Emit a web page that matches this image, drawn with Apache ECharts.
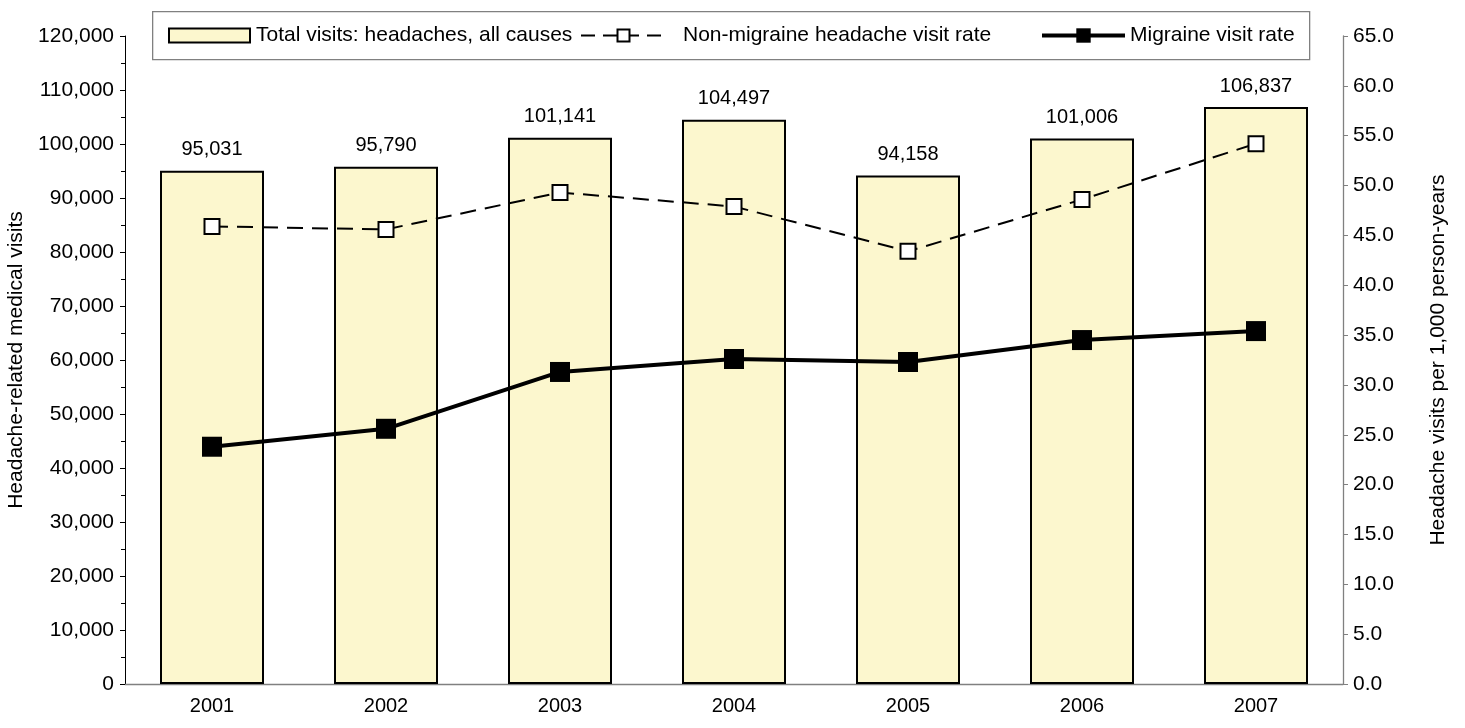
<!DOCTYPE html>
<html>
<head>
<meta charset="utf-8">
<script src="https://cdn.jsdelivr.net/npm/echarts@6/dist/echarts.min.js"></script>
<style>
html,body{margin:0;padding:0;background:#fff;}
#chart{width:1465px;height:728px;}
</style>
</head>
<body>
<div id="chart"></div>
<script>
var years = ['2001','2002','2003','2004','2005','2006','2007'];
var totalVisits = [95031, 95790, 101141, 104497, 94158, 101006, 106837];
var nonMigraineRate = [45.9, 45.6, 49.3, 47.9, 43.4, 48.6, 54.2];
var migraineRate = [23.8, 25.6, 31.3, 32.6, 32.3, 34.5, 35.4];

var FONT = '"Liberation Sans", Arial, sans-serif';
var chart = echarts.init(document.getElementById('chart'));
function fmtThousands(v){ return String(v).replace(/\B(?=(\d{3})+(?!\d))/g, ','); }

chart.setOption({
  animation: false,
  textStyle: { fontFamily: FONT, color: '#000' },
  grid: { left: 125, right: 122, top: 36, bottom: 44, containLabel: false, outerBoundsMode: 'none' },
  graphic: [{
    type: 'rect', left: 152, top: 11, z: 100, silent: true,
    shape: { width: 1157, height: 48 },
    style: { fill: '#fff', stroke: '#808080', lineWidth: 1.3 }
  }],
  legend: [
    { data: [{ name: 'Total visits: headaches, all causes', icon: 'rect' }], left: 168, top: 25, padding: 0, z: 110,
      itemWidth: 81, itemHeight: 14, itemGap: 0,
      textStyle: { fontFamily: FONT, fontSize: 21, color: '#000', padding: [0,0,0,1] } },
    { data: ['Non-migraine headache visit rate'], left: 580, top: 25, padding: 0, z: 110,
      itemWidth: 85, itemHeight: 15, itemGap: 0,
      lineStyle: { width: 2, type: [14, 8] },
      textStyle: { fontFamily: FONT, fontSize: 21, color: '#000', padding: [0,0,0,12] } },
    { data: ['Migraine visit rate'], left: 1040, top: 25, padding: 0, z: 110,
      itemWidth: 83, itemHeight: 18, itemGap: 0,
      lineStyle: { width: 4 },
      textStyle: { fontFamily: FONT, fontSize: 21, color: '#000' } }
  ],
  xAxis: {
    type: 'category', data: years,
    axisLine: { show: true, lineStyle: { color: '#808080', width: 1.3 } },
    axisTick: { show: false },
    axisLabel: { fontFamily: FONT, fontSize: 20, color: '#000', margin: 12 }
  },
  yAxis: [
    { type: 'value', min: 0, max: 120000, interval: 10000,
      name: 'Headache-related medical visits', nameLocation: 'middle', nameGap: 88, nameRotate: 90,
      nameTextStyle: { fontFamily: FONT, fontSize: 21, color: '#000' },
      axisLine: { show: true, lineStyle: { color: '#000', width: 1 } },
      axisTick: { show: true, length: 5, lineStyle: { color: '#000' } },
      minorTick: { show: true, splitNumber: 2, length: 4, lineStyle: { color: '#000' } },
      splitLine: { show: false },
      axisLabel: { fontFamily: FONT, fontSize: 21, color: '#000', margin: 11, formatter: fmtThousands }
    },
    { type: 'value', min: 0, max: 65, interval: 5, position: 'right',
      name: 'Headache visits per 1,000 person-years', nameLocation: 'middle', nameGap: 85, nameRotate: 90,
      nameTextStyle: { fontFamily: FONT, fontSize: 21, color: '#000' },
      axisLine: { show: true, lineStyle: { color: '#808080', width: 1.3 } },
      axisTick: { show: true, length: 5, lineStyle: { color: '#808080' } },
      splitLine: { show: false },
      axisLabel: { fontFamily: FONT, fontSize: 21, color: '#000', margin: 10,
        formatter: function(v){ return v.toFixed(1); } }
    }
  ],
  series: [
    { name: 'Total visits: headaches, all causes', type: 'bar', data: totalVisits, yAxisIndex: 0,
      barWidth: 104,
      itemStyle: { color: '#FCF7CE', borderColor: '#000', borderWidth: 2 },
      label: { show: true, position: 'top', distance: 11, fontFamily: FONT, fontSize: 20, color: '#000',
        formatter: function(p){ return fmtThousands(p.value); } }
    },
    { name: 'Non-migraine headache visit rate', type: 'line', data: nonMigraineRate, yAxisIndex: 1,
      symbol: 'rect', symbolSize: 15, showAllSymbol: true,
      lineStyle: { color: '#000', width: 2, type: [16, 9] },
      itemStyle: { color: '#fff', borderColor: '#000', borderWidth: 2 }, z: 5
    },
    { name: 'Migraine visit rate', type: 'line', data: migraineRate, yAxisIndex: 1,
      symbol: 'rect', symbolSize: 20, showAllSymbol: true,
      lineStyle: { color: '#000', width: 4 },
      itemStyle: { color: '#000', borderColor: '#000', borderWidth: 0 }, z: 5
    }
  ]
});
</script>
</body>
</html>
